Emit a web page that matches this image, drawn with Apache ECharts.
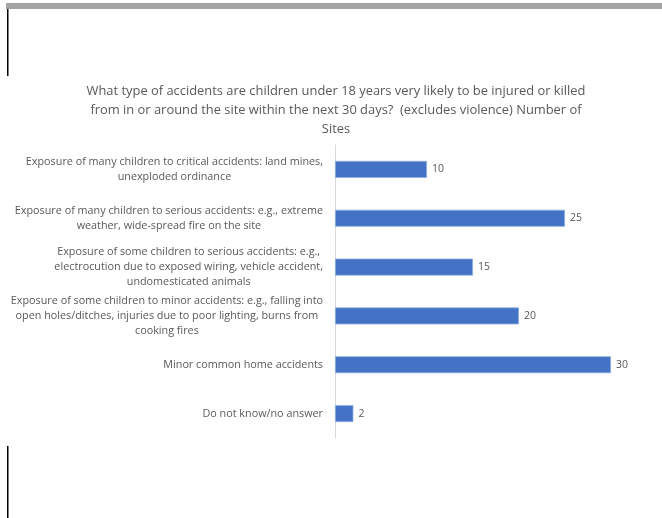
<!DOCTYPE html>
<html>
<head>
<meta charset="utf-8">
<script src="https://cdn.jsdelivr.net/npm/echarts@6/dist/echarts.min.js"></script>
<style>
html,body{margin:0;padding:0;background:#fff;}
#chart{width:662px;height:518px;}
</style>
</head>
<body>
<div id="chart"></div>
<script>
const categories = [
  "Exposure of many children to critical accidents: land mines,\nunexploded ordinance",
  "Exposure of many children to serious accidents: e.g., extreme\nweather, wide-spread fire on the site",
  "Exposure of some children to serious accidents: e.g.,\nelectrocution due to exposed wiring, vehicle accident,\nundomesticated animals",
  "Exposure of some children to minor accidents: e.g., falling into\nopen holes/ditches, injuries due to poor lighting, burns from\ncooking fires",
  "Minor common home accidents",
  "Do not know/no answer"
];
const values = [10, 25, 15, 20, 30, 2];
const titleText = "What type of accidents are children under 18 years very likely to be injured or killed\nfrom in or around the site within the next 30 days?  (excludes violence) Number of\nSites";

const chart = echarts.init(document.getElementById('chart'), null, {renderer: 'canvas'});
const font = "'Open Sans', 'Liberation Sans', sans-serif";
chart.setOption({
  animation: false,
  backgroundColor: '#ffffff',
  title: {
    text: titleText,
    left: 331,
    textAlign: 'center',
    top: 77,
    textStyle: {fontFamily: font, fontSize: 12.9, fontWeight: 'normal', color: '#595959', lineHeight: 19}
  },
  graphic: [
    {type: 'rect', shape: {x: 6, y: 3, width: 656, height: 6}, style: {fill: '#a3a3a3'}},
    {type: 'rect', shape: {x: 7, y: 9, width: 1.5, height: 67}, style: {fill: '#000'}},
    {type: 'rect', shape: {x: 7, y: 446, width: 1.5, height: 72}, style: {fill: '#000'}}
  ],
  grid: {left: 335, top: 145, width: 276, height: 293, containLabel: false},
  xAxis: {
    type: 'value', min: 0, max: 30, show: false
  },
  yAxis: {
    type: 'category',
    data: categories,
    inverse: true,
    axisLine: {show: true, lineStyle: {color: '#d9d9d9', width: 1}},
    axisTick: {show: false},
    axisLabel: {
      margin: 12,
      fontFamily: font,
      fontSize: 10.8,
      color: '#595959',
      lineHeight: 15,
      formatter: function (v) {
        return v.split('\n').map(function (l) { return '{c|' + l + '}'; }).join('\n');
      },
      rich: {c: {align: 'center', fontFamily: font, fontSize: 10.8, color: '#595959', lineHeight: 15}}
    }
  },
  series: [{
    type: 'bar',
    data: values,
    barWidth: 17,
    itemStyle: {color: '#4472C4', borderColor: '#8fb0e6', borderWidth: 0.8},
    label: {show: true, position: 'right', distance: 5, fontFamily: font, fontSize: 10.5, color: '#595959'}
  }]
});
</script>
</body>
</html>
